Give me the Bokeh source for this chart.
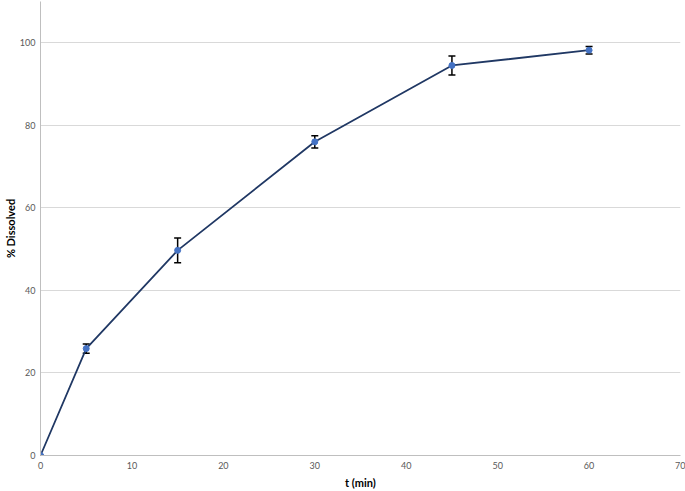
from bokeh.plotting import figure
from bokeh.models import ColumnDataSource, Whisker, TeeHead, Range1d, FixedTicker
from bokeh.embed import file_html
from bokeh.resources import INLINE

t_min = [0, 5, 15, 30, 45, 60]
dissolved = [0.0, 25.9, 49.7, 76.0, 94.5, 98.2]
err = [0.0, 1.1, 3.0, 1.5, 2.3, 0.9]
x_ticks = [0, 10, 20, 30, 40, 50, 60, 70]
y_ticks = [0, 20, 40, 60, 80, 100]

src = ColumnDataSource(dict(
    x=t_min, y=dissolved,
    lo=[v - e for v, e in zip(dissolved, err)],
    hi=[v + e for v, e in zip(dissolved, err)],
))

p = figure(width=685, height=491, output_backend="svg", toolbar_location=None,
           x_range=Range1d(0, 70), y_range=Range1d(0, 110),
           min_border_left=0, min_border_right=5, min_border_top=1, min_border_bottom=0)
p.outline_line_color = None
p.background_fill_color = "white"

p.xgrid.grid_line_color = None
p.ygrid.grid_line_color = "#d9d9d9"
p.ygrid.grid_line_width = 1.2

for ax in (p.xaxis[0], p.yaxis[0]):
    ax.axis_line_color = "#bfbfbf"
    ax.major_tick_line_color = None
    ax.minor_tick_line_color = None
    ax.major_tick_in = 0
    ax.major_tick_out = 0
    ax.minor_tick_in = 0
    ax.minor_tick_out = 0
    ax.major_label_text_color = "#595959"
    ax.major_label_text_font = "Lato"
    ax.major_label_text_font_size = "9px"
    ax.axis_label_text_font = "Lato"
    ax.axis_label_text_font_style = "bold"
    ax.axis_label_text_font_size = "11px"
    ax.axis_label_text_color = "#000000"

p.xaxis.ticker = FixedTicker(ticks=x_ticks)
p.yaxis.ticker = FixedTicker(ticks=y_ticks)
p.xaxis.axis_label = "t (min)"
p.yaxis.axis_label = "% Dissolved"
p.xaxis.major_label_standoff = 6
p.xaxis.axis_label_standoff = 4
p.yaxis.major_label_standoff = 5
p.yaxis.axis_label_standoff = 0

p.line("x", "y", source=src, line_color="#203864", line_width=1.8)
w = Whisker(source=src, base="x", lower="lo", upper="hi", dimension="height",
            line_color="black", line_width=1.5,
            upper_head=TeeHead(size=7, line_color="black", line_width=1.5),
            lower_head=TeeHead(size=7, line_color="black", line_width=1.5))
p.add_layout(w)
p.scatter("x", "y", source=src, size=6, fill_color="#4472c4", line_color="#4472c4")

open("out.html", "w").write(file_html(p, INLINE))
